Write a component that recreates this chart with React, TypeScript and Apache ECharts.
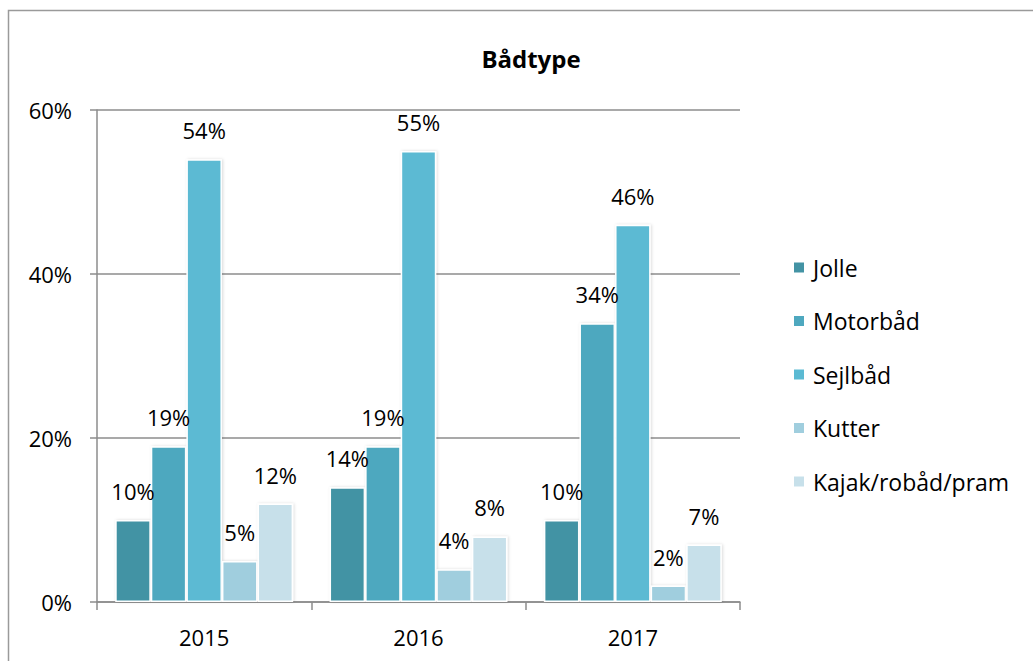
import React, { useEffect, useRef } from "react";
import * as echarts from "echarts";

const years = ["2015", "2016", "2017"];
const seriesNames = ["Jolle", "Motorbåd", "Sejlbåd", "Kutter", "Kajak/robåd/pram"];
const jolle = [10, 14, 10];
const motorbaad = [19, 19, 34];
const sejlbaad = [54, 55, 46];
const kutter = [5, 4, 2];
const kajak = [12, 8, 7];
const yTicks = [0, 20, 40, 60];

const colors = ["#4393A4", "#4EA8BF", "#5BBAD3", "#A0CEDE", "#C7E0EA"];
const FONT = "'Open Sans', sans-serif";

export default function App() {
  const ref = useRef<HTMLDivElement>(null);
  useEffect(() => {
    if (!ref.current) return;
    const chart = echarts.init(ref.current, undefined, { renderer: "svg" });
    const allData = [jolle, motorbaad, sejlbaad, kutter, kajak];
    chart.setOption({
      animation: false,
      backgroundColor: "#ffffff",
      textStyle: { fontFamily: FONT },
      title: {
        text: "Bådtype",
        left: 526,
        top: 41,
        textAlign: "center",
        textStyle: { fontFamily: FONT, fontSize: 24, fontWeight: "bold", color: "#000" },
      },
      graphic: [
        {
          type: "rect",
          shape: { x: 8.5, y: 10.5, width: 1200, height: 800 },
          style: { fill: "none", stroke: "#9a9a9a", lineWidth: 1.5 },
          silent: true,
        },
      ],
      legend: {
        orient: "vertical",
        left: 787,
        top: 251,
        itemWidth: 12,
        itemHeight: 12,
        itemGap: 30.5,
        icon: "rect",
        data: seriesNames,
        textStyle: { fontFamily: FONT, fontSize: 23, color: "#000", padding: [0, 0, 0, 3] },
      },
      grid: { left: 97, top: 110, width: 643, height: 492, containLabel: false },
      xAxis: {
        type: "category",
        data: years,
        axisLine: { lineStyle: { color: "#8c8c8c", width: 1.5 } },
        axisTick: { show: true, length: 8, lineStyle: { color: "#8c8c8c", width: 1.5 } },
        axisLabel: { fontFamily: FONT, fontSize: 22, color: "#000", margin: 24 },
      },
      yAxis: {
        type: "value",
        min: 0,
        max: 60,
        interval: 20,
        axisLine: { show: true, lineStyle: { color: "#8c8c8c", width: 1.5 } },
        axisTick: { show: true, length: 7, lineStyle: { color: "#8c8c8c", width: 1.5 } },
        splitLine: { lineStyle: { color: "#8c8c8c", width: 1.5 } },
        axisLabel: {
          fontFamily: FONT,
          fontSize: 22,
          color: "#000",
          margin: 25,
          formatter: (v: number) => (yTicks.includes(v) ? v + "%" : ""),
        },
      },
      series: seriesNames.map((name, i) => ({
        name,
        type: "bar",
        data: allData[i],
        barGap: "0%",
        barCategoryGap: "17%",
        itemStyle: {
          color: colors[i],
          borderColor: "#ffffff",
          borderWidth: 1.5,
          shadowColor: "rgba(0,0,0,0.15)",
          shadowBlur: 3,
          shadowOffsetX: 1,
        },
        label: {
          show: true,
          position: "top",
          distance: 18,
          formatter: (p: any) => p.value + "%",
          fontFamily: FONT,
          fontSize: 22,
          color: "#000",
        },
      })),
    });
    return () => chart.dispose();
  }, []);
  return (
    <div
      ref={ref}
      style={{ position: "fixed", left: 0, top: 0, width: 1033, height: 661 }}
    />
  );
}
